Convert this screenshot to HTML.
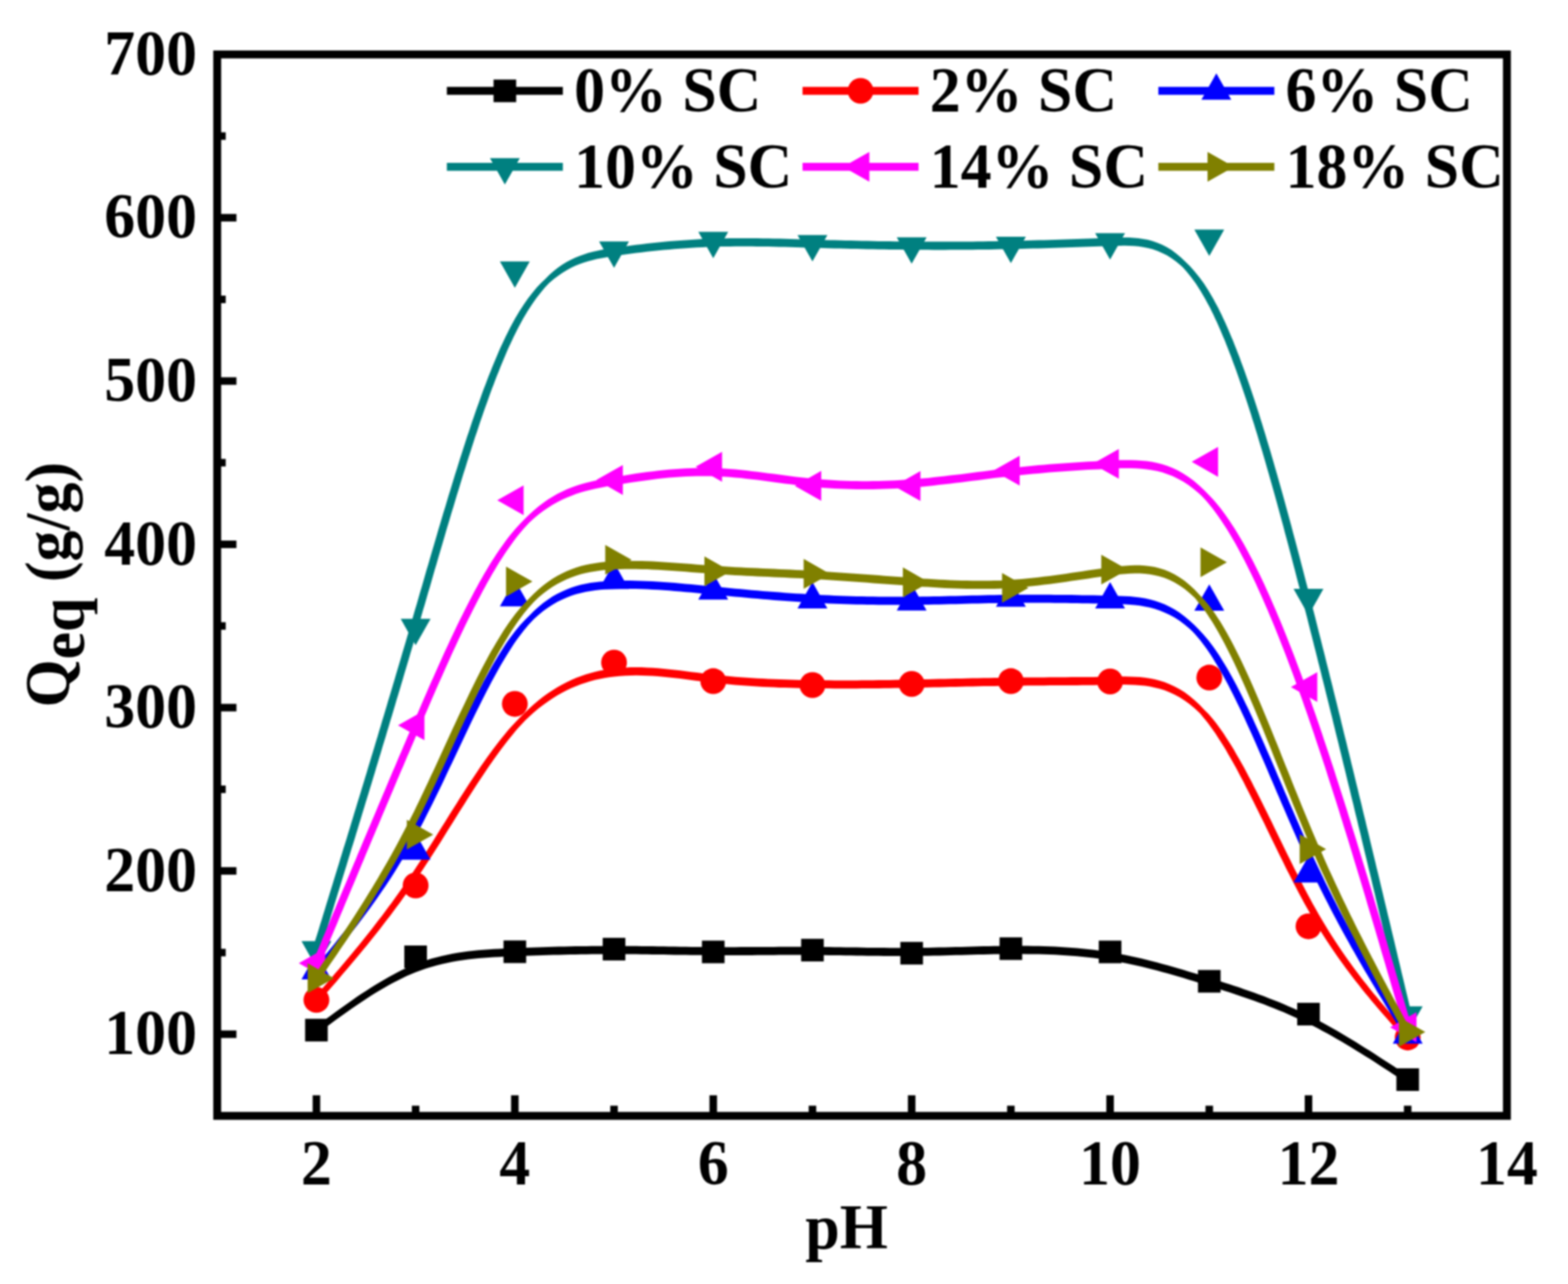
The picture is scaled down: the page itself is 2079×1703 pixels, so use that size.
<!DOCTYPE html>
<html lang="en"><head><meta charset="utf-8">
<title>Qeq versus pH</title>
<style>
html,body{margin:0;padding:0;background:#fff;}
body{width:2079px;height:1703px;overflow:hidden;}
svg{display:block;filter:blur(0.8px);}
text{font-family:"Liberation Serif",serif;font-weight:bold;fill:#000;}
.tk{font-size:82px;}
.lg{font-size:82px;}
.ti{font-size:82px;}
</style></head><body>
<svg width="2079" height="1703" viewBox="0 0 2079 1703" role="img" aria-label="Qeq (g/g) versus pH for 0% to 18% SC">
<rect x="0" y="0" width="2079" height="1703" fill="#ffffff"/>
<g stroke="#000" stroke-width="10" stroke-linecap="butt" fill="none">
<line x1="288" y1="1371.71" x2="313.5" y2="1371.71"/>
<line x1="288" y1="1155.12" x2="313.5" y2="1155.12"/>
<line x1="288" y1="938.54" x2="313.5" y2="938.54"/>
<line x1="288" y1="721.95" x2="313.5" y2="721.95"/>
<line x1="288" y1="505.37" x2="313.5" y2="505.37"/>
<line x1="288" y1="288.78" x2="313.5" y2="288.78"/>
<line x1="288" y1="1263.42" x2="299.3" y2="1263.42"/>
<line x1="288" y1="1046.83" x2="299.3" y2="1046.83"/>
<line x1="288" y1="830.25" x2="299.3" y2="830.25"/>
<line x1="288" y1="613.66" x2="299.3" y2="613.66"/>
<line x1="288" y1="397.08" x2="299.3" y2="397.08"/>
<line x1="288" y1="180.49" x2="299.3" y2="180.49"/>
<line x1="419.54" y1="1480" x2="419.54" y2="1452.7"/>
<line x1="682.62" y1="1480" x2="682.62" y2="1452.7"/>
<line x1="945.69" y1="1480" x2="945.69" y2="1452.7"/>
<line x1="1208.77" y1="1480" x2="1208.77" y2="1452.7"/>
<line x1="1471.85" y1="1480" x2="1471.85" y2="1452.7"/>
<line x1="1734.92" y1="1480" x2="1734.92" y2="1452.7"/>
<line x1="551.08" y1="1480" x2="551.08" y2="1466.5"/>
<line x1="814.15" y1="1480" x2="814.15" y2="1466.5"/>
<line x1="1077.23" y1="1480" x2="1077.23" y2="1466.5"/>
<line x1="1340.31" y1="1480" x2="1340.31" y2="1466.5"/>
<line x1="1603.38" y1="1480" x2="1603.38" y2="1466.5"/>
<line x1="1866.46" y1="1480" x2="1866.46" y2="1466.5"/>
</g>
<g>
<path d="M419.5 1371.7L425.5 1367.3L431.5 1362.9L437.5 1358.5L443.5 1354.1L449.4 1349.8L455.4 1345.5L461.4 1341.2L467.4 1337.1L473.3 1332.9L479.3 1328.9L485.3 1325L491.3 1321.1L497.3 1317.3L503.2 1313.7L509.2 1310.2L515.2 1306.8L521.2 1303.5L527.2 1300.4L533.1 1297.4L539.1 1294.6L545.1 1292L551.1 1289.5L558 1286.9L564.9 1284.5L571.8 1282.4L578.8 1280.5L585.7 1278.7L592.6 1277.2L599.5 1275.8L606.5 1274.6L613.4 1273.5L620.3 1272.6L627.2 1271.8L634.2 1271.1L641.1 1270.5L648 1270L654.9 1269.6L661.8 1269.2L668.8 1268.8L675.7 1268.5L682.6 1268.3L689.9 1268L697.2 1267.7L704.5 1267.5L711.8 1267.2L719.2 1267L726.5 1266.8L733.8 1266.6L741.1 1266.4L748.4 1266.2L755.7 1266.1L763 1265.9L770.3 1265.8L777.6 1265.7L784.9 1265.6L792.2 1265.5L799.5 1265.5L806.8 1265.5L814.2 1265.5L821.5 1265.5L828.8 1265.5L836.1 1265.6L843.4 1265.6L850.7 1265.7L858 1265.8L865.3 1265.9L872.6 1266L879.9 1266.1L887.2 1266.2L894.5 1266.4L901.8 1266.5L909.2 1266.6L916.5 1266.7L923.8 1266.8L931.1 1266.8L938.4 1266.9L945.7 1266.9L953 1267L960.3 1267L967.6 1267L974.9 1267L982.2 1266.9L989.5 1266.9L996.8 1266.9L1004.2 1266.8L1011.5 1266.8L1018.8 1266.7L1026.1 1266.7L1033.4 1266.6L1040.7 1266.6L1048 1266.6L1055.3 1266.6L1062.6 1266.6L1069.9 1266.6L1077.2 1266.6L1084.5 1266.7L1091.8 1266.8L1099.2 1266.9L1106.5 1267L1113.8 1267.1L1121.1 1267.2L1128.4 1267.3L1135.7 1267.4L1143 1267.5L1150.3 1267.7L1157.6 1267.8L1164.9 1267.8L1172.2 1267.9L1179.5 1268L1186.8 1268L1194.2 1268L1201.5 1268L1208.8 1268L1216.1 1267.9L1223.4 1267.8L1230.7 1267.7L1238 1267.6L1245.3 1267.4L1252.6 1267.2L1259.9 1267L1267.2 1266.8L1274.5 1266.7L1281.8 1266.5L1289.2 1266.3L1296.5 1266.1L1303.8 1265.9L1311.1 1265.8L1318.4 1265.6L1325.7 1265.5L1333 1265.4L1340.3 1265.4L1347.6 1265.3L1354.9 1265.3L1362.2 1265.4L1369.5 1265.5L1376.8 1265.6L1384.2 1265.8L1391.5 1266L1398.8 1266.3L1406.1 1266.7L1413.4 1267.2L1420.7 1267.7L1428 1268.3L1435.3 1269L1442.6 1269.7L1449.9 1270.6L1457.2 1271.5L1464.5 1272.6L1471.8 1273.7L1478.8 1274.9L1485.7 1276.2L1492.6 1277.6L1499.5 1279L1506.5 1280.5L1513.4 1282.1L1520.3 1283.8L1527.2 1285.5L1534.2 1287.3L1541.1 1289.2L1548 1291.1L1554.9 1293.1L1561.8 1295L1568.8 1297.1L1575.7 1299.2L1582.6 1301.3L1589.5 1303.4L1596.5 1305.5L1603.4 1307.7L1610 1309.8L1616.5 1311.8L1623.1 1314L1629.7 1316.1L1636.3 1318.3L1642.8 1320.4L1649.4 1322.7L1656 1325L1662.6 1327.3L1669.2 1329.7L1675.7 1332.1L1682.3 1334.7L1688.9 1337.2L1695.5 1339.9L1702 1342.6L1708.6 1345.5L1715.2 1348.4L1721.8 1351.4L1728.3 1354.5L1734.9 1357.7L1741.2 1360.8L1747.5 1364.1L1753.7 1367.4L1760 1370.8L1766.2 1374.3L1772.5 1377.9L1778.8 1381.6L1785 1385.3L1791.3 1389L1797.6 1392.9L1803.8 1396.7L1810.1 1400.7L1816.4 1404.6L1822.6 1408.6L1828.9 1412.7L1835.1 1416.7L1841.4 1420.8L1847.7 1424.9L1853.9 1429.1L1860.2 1433.2L1866.5 1437.3L1866.5 1426.5L1860.2 1422.4L1853.9 1418.3L1847.7 1414.1L1841.4 1410L1835.1 1405.9L1828.9 1401.9L1822.6 1397.8L1816.4 1393.8L1810.1 1389.9L1803.8 1385.9L1797.6 1382.1L1791.3 1378.2L1785 1374.5L1778.8 1370.8L1772.5 1367.1L1766.2 1363.5L1760 1360L1753.7 1356.6L1747.5 1353.3L1741.2 1350L1734.9 1346.9L1728.3 1343.7L1721.8 1340.6L1715.2 1337.6L1708.6 1334.7L1702 1331.8L1695.5 1329.1L1688.9 1326.4L1682.3 1323.9L1675.7 1321.3L1669.2 1318.9L1662.6 1316.5L1656 1314.2L1649.4 1311.9L1642.8 1309.6L1636.3 1307.5L1629.7 1305.3L1623.1 1303.2L1616.5 1301L1610 1299L1603.4 1296.9L1596.5 1294.7L1589.5 1292.6L1582.6 1290.5L1575.7 1288.4L1568.8 1286.3L1561.8 1284.2L1554.9 1282.3L1548 1280.3L1541.1 1278.4L1534.2 1276.5L1527.2 1274.7L1520.3 1273L1513.4 1271.3L1506.5 1269.7L1499.5 1268.2L1492.6 1266.8L1485.7 1265.4L1478.8 1264.1L1471.8 1262.9L1464.5 1261.8L1457.2 1260.7L1449.9 1259.8L1442.6 1258.9L1435.3 1258.2L1428 1257.5L1420.7 1256.9L1413.4 1256.4L1406.1 1255.9L1398.8 1255.5L1391.5 1255.2L1384.2 1255L1376.8 1254.8L1369.5 1254.7L1362.2 1254.6L1354.9 1254.5L1347.6 1254.5L1340.3 1254.6L1333 1254.6L1325.7 1254.7L1318.4 1254.8L1311.1 1255L1303.8 1255.1L1296.5 1255.3L1289.2 1255.5L1281.8 1255.7L1274.5 1255.9L1267.2 1256L1259.9 1256.2L1252.6 1256.4L1245.3 1256.6L1238 1256.8L1230.7 1256.9L1223.4 1257L1216.1 1257.1L1208.8 1257.2L1201.5 1257.2L1194.2 1257.2L1186.8 1257.2L1179.5 1257.2L1172.2 1257.1L1164.9 1257L1157.6 1257L1150.3 1256.9L1143 1256.7L1135.7 1256.6L1128.4 1256.5L1121.1 1256.4L1113.8 1256.3L1106.5 1256.2L1099.2 1256.1L1091.8 1256L1084.5 1255.9L1077.2 1255.8L1069.9 1255.8L1062.6 1255.8L1055.3 1255.8L1048 1255.8L1040.7 1255.8L1033.4 1255.8L1026.1 1255.9L1018.8 1255.9L1011.5 1256L1004.2 1256L996.8 1256.1L989.5 1256.1L982.2 1256.1L974.9 1256.2L967.6 1256.2L960.3 1256.2L953 1256.2L945.7 1256.1L938.4 1256.1L931.1 1256L923.8 1256L916.5 1255.9L909.2 1255.8L901.8 1255.7L894.5 1255.6L887.2 1255.4L879.9 1255.3L872.6 1255.2L865.3 1255.1L858 1255L850.7 1254.9L843.4 1254.8L836.1 1254.8L828.8 1254.7L821.5 1254.7L814.2 1254.7L806.8 1254.7L799.5 1254.7L792.2 1254.7L784.9 1254.8L777.6 1254.9L770.3 1255L763 1255.1L755.7 1255.3L748.4 1255.4L741.1 1255.6L733.8 1255.8L726.5 1256L719.2 1256.2L711.8 1256.4L704.5 1256.7L697.2 1256.9L689.9 1257.2L682.6 1257.5L675.7 1257.7L668.8 1258L661.8 1258.4L654.9 1258.8L648 1259.2L641.1 1259.7L634.2 1260.3L627.2 1261L620.3 1261.8L613.4 1262.7L606.5 1263.8L599.5 1265L592.6 1266.4L585.7 1267.9L578.8 1269.7L571.8 1271.6L564.9 1273.7L558 1276.1L551.1 1278.7L545.1 1281.2L539.1 1283.8L533.1 1286.6L527.2 1289.6L521.2 1292.7L515.2 1296L509.2 1299.4L503.2 1302.9L497.3 1306.5L491.3 1310.3L485.3 1314.2L479.3 1318.1L473.3 1322.1L467.4 1326.3L461.4 1330.4L455.4 1334.7L449.4 1339L443.5 1343.3L437.5 1347.7L431.5 1352.1L425.5 1356.5L419.5 1360.9Z" fill="#000000"/>
<rect x="404.54" y="1351.29" width="30" height="30" fill="#000000"/>
<rect x="536.08" y="1254.05" width="30" height="30" fill="#000000"/>
<rect x="667.62" y="1247.33" width="30" height="30" fill="#000000"/>
<rect x="799.15" y="1243.87" width="30" height="30" fill="#000000"/>
<rect x="930.69" y="1247.55" width="30" height="30" fill="#000000"/>
<rect x="1062.23" y="1245.17" width="30" height="30" fill="#000000"/>
<rect x="1193.77" y="1249.28" width="30" height="30" fill="#000000"/>
<rect x="1325.31" y="1243.22" width="30" height="30" fill="#000000"/>
<rect x="1456.85" y="1247.55" width="30" height="30" fill="#000000"/>
<rect x="1588.38" y="1286.53" width="30" height="30" fill="#000000"/>
<rect x="1719.92" y="1330.07" width="30" height="30" fill="#000000"/>
<rect x="1851.46" y="1416.92" width="30" height="30" fill="#000000"/>
</g>
<g>
<path d="M424.9 1326.2L429.3 1321.2L433.7 1316.1L438.1 1311L442.5 1305.9L446.9 1300.9L451.2 1295.7L455.6 1290.6L460 1285.5L464.4 1280.3L468.8 1275.1L473.2 1269.8L477.6 1264.5L481.9 1259.2L486.3 1253.9L490.7 1248.5L495.1 1243L499.5 1237.5L503.9 1231.9L508.2 1226.3L512.6 1220.6L517 1214.9L521.4 1209L525.8 1203.1L530.2 1197.2L534.6 1191.1L538.9 1185L543.3 1178.8L547.7 1172.5L552.1 1166.1L556.5 1159.6L560.5 1153.6L564.4 1147.5L568.4 1141.4L572.4 1135.2L576.4 1129L580.4 1122.7L584.4 1116.4L588.4 1110L592.4 1103.6L596.3 1097.3L600.3 1090.9L604.3 1084.5L608.3 1078.1L612.3 1071.8L616.3 1065.4L620.3 1059.1L624.2 1052.9L628.2 1046.7L632.2 1040.5L636.2 1034.4L640.2 1028.4L644.2 1022.5L648.2 1016.6L652.1 1010.9L656.1 1005.2L660.1 999.7L664.1 994.2L668.1 988.9L672.1 983.8L676.1 978.7L680 973.9L684 969.1L688 964.6L694.3 957.7L700.5 951.3L695.1 956.7L701.4 950.7L707.7 945.1L713.9 939.8L720.2 934.9L726.5 930.4L732.7 926.2L739 922.3L745.3 918.8L751.5 915.5L757.8 912.6L764 909.9L770.3 907.5L776.6 905.4L782.8 903.5L789.1 901.8L795.4 900.4L801.6 899.2L807.9 898.2L814.2 897.4L821.5 896.7L828.8 896.2L836.1 895.9L843.4 895.8L850.7 895.9L858 896.2L865.3 896.6L872.6 897.1L879.9 897.8L887.2 898.5L894.5 899.3L901.8 900.1L909.2 901.1L916.5 902L923.8 902.9L931.1 903.8L938.4 904.7L945.7 905.6L953 906.4L960.3 907.1L967.6 907.8L974.9 908.5L982.2 909L989.5 909.6L996.8 910.1L1004.2 910.5L1011.5 910.9L1018.8 911.3L1026.1 911.6L1033.4 911.9L1040.7 912.1L1048 912.3L1055.3 912.5L1062.6 912.7L1069.9 912.8L1077.2 912.9L1084.5 913L1091.8 913.1L1099.2 913.1L1106.5 913.2L1113.8 913.2L1121.1 913.2L1128.4 913.2L1135.7 913.2L1143 913.1L1150.3 913L1157.6 913L1164.9 912.9L1172.2 912.8L1179.5 912.7L1186.8 912.6L1194.2 912.4L1201.5 912.3L1208.8 912.2L1216.1 912L1223.4 911.9L1230.7 911.7L1238 911.6L1245.3 911.4L1252.6 911.2L1259.9 911.1L1267.2 910.9L1274.5 910.7L1281.8 910.6L1289.2 910.4L1296.5 910.3L1303.8 910.1L1311.1 910L1318.4 909.9L1325.7 909.7L1333 909.6L1340.3 909.5L1347.6 909.5L1354.9 909.4L1362.2 909.3L1369.5 909.3L1376.8 909.2L1384.2 909.2L1391.5 909.1L1398.8 909.1L1406.1 909L1413.4 909L1420.7 908.9L1428 908.9L1435.3 908.8L1442.6 908.8L1449.9 908.7L1457.2 908.6L1464.5 908.5L1471.8 908.3L1478.4 908.2L1485 908.1L1491.6 908.1L1498.2 908.2L1504.7 908.5L1511.3 908.9L1517.9 909.6L1524.5 910.6L1531 911.9L1537.6 913.5L1544.2 915.6L1550.8 918.2L1557.3 921.2L1563.9 924.8L1570.5 928.9L1577.1 933.7L1583.7 939.2L1590.2 945.3L1596.8 952.2L1591.4 946.8L1598 954.5L1601.4 958.8L1604.7 963.3L1608.1 968L1611.5 972.8L1614.8 977.9L1618.2 983.2L1621.6 988.6L1625 994.1L1628.3 999.9L1631.7 1005.7L1635.1 1011.7L1638.5 1017.8L1641.8 1024.1L1645.2 1030.4L1648.6 1036.8L1651.9 1043.4L1655.3 1050L1658.7 1056.7L1662.1 1063.4L1665.4 1070.2L1668.8 1077L1672.2 1083.9L1675.6 1090.8L1678.9 1097.8L1682.3 1104.7L1685.7 1111.7L1689 1118.6L1692.4 1125.5L1695.8 1132.4L1699.2 1139.3L1702.5 1146.1L1705.9 1152.9L1709.3 1159.6L1712.7 1166.2L1716 1172.8L1719.4 1179.3L1722.8 1185.7L1726.2 1192L1729.5 1198.2L1733.8 1205.8L1738 1213.2L1742.3 1220.4L1746.5 1227.5L1750.7 1234.4L1755 1241.2L1759.2 1247.7L1763.5 1254.2L1767.7 1260.5L1772 1266.7L1776.2 1272.7L1780.4 1278.6L1784.7 1284.4L1788.9 1290.1L1793.2 1295.7L1797.4 1301.2L1801.7 1306.6L1805.9 1311.9L1810.1 1317.2L1814.4 1322.3L1818.6 1327.4L1822.9 1332.5L1827.1 1337.5L1831.4 1342.4L1835.6 1347.3L1839.8 1352.1L1844.1 1356.9L1848.3 1361.7L1852.6 1366.5L1856.8 1371.3L1861.1 1376L1871.9 1376L1867.6 1371.3L1863.4 1366.5L1859.1 1361.7L1854.9 1356.9L1850.6 1352.1L1846.4 1347.3L1842.2 1342.4L1837.9 1337.5L1833.7 1332.5L1829.4 1327.4L1825.2 1322.3L1820.9 1317.2L1816.7 1311.9L1812.5 1306.6L1808.2 1301.2L1804 1295.7L1799.7 1290.1L1795.5 1284.4L1791.2 1278.6L1787 1272.7L1782.8 1266.7L1778.5 1260.5L1774.3 1254.2L1770 1247.7L1765.8 1241.2L1761.5 1234.4L1757.3 1227.5L1753.1 1220.4L1748.8 1213.2L1744.6 1205.8L1740.3 1198.2L1737 1192L1733.6 1185.7L1730.2 1179.3L1726.8 1172.8L1723.5 1166.2L1720.1 1159.6L1716.7 1152.9L1713.3 1146.1L1710 1139.3L1706.6 1132.4L1703.2 1125.5L1699.8 1118.6L1696.5 1111.7L1693.1 1104.7L1689.7 1097.8L1686.4 1090.8L1683 1083.9L1679.6 1077L1676.2 1070.2L1672.9 1063.4L1669.5 1056.7L1666.1 1050L1662.7 1043.4L1659.4 1036.8L1656 1030.4L1652.6 1024.1L1649.3 1017.8L1645.9 1011.7L1642.5 1005.7L1639.1 999.9L1635.8 994.1L1632.4 988.6L1629 983.2L1625.6 977.9L1622.3 972.8L1618.9 968L1615.5 963.3L1612.2 958.8L1608.8 954.5L1602.2 946.8L1596.8 941.4L1590.2 934.5L1583.7 928.4L1577.1 922.9L1570.5 918.1L1563.9 914L1557.3 910.4L1550.8 907.4L1544.2 904.8L1537.6 902.7L1531 901.1L1524.5 899.8L1517.9 898.8L1511.3 898.1L1504.7 897.7L1498.2 897.4L1491.6 897.3L1485 897.3L1478.4 897.4L1471.8 897.5L1464.5 897.7L1457.2 897.8L1449.9 897.9L1442.6 898L1435.3 898L1428 898.1L1420.7 898.1L1413.4 898.2L1406.1 898.2L1398.8 898.3L1391.5 898.3L1384.2 898.4L1376.8 898.4L1369.5 898.5L1362.2 898.5L1354.9 898.6L1347.6 898.7L1340.3 898.7L1333 898.8L1325.7 898.9L1318.4 899.1L1311.1 899.2L1303.8 899.3L1296.5 899.5L1289.2 899.6L1281.8 899.8L1274.5 899.9L1267.2 900.1L1259.9 900.3L1252.6 900.4L1245.3 900.6L1238 900.8L1230.7 900.9L1223.4 901.1L1216.1 901.2L1208.8 901.4L1201.5 901.5L1194.2 901.6L1186.8 901.8L1179.5 901.9L1172.2 902L1164.9 902.1L1157.6 902.2L1150.3 902.2L1143 902.3L1135.7 902.4L1128.4 902.4L1121.1 902.4L1113.8 902.4L1106.5 902.4L1099.2 902.3L1091.8 902.3L1084.5 902.2L1077.2 902.1L1069.9 902L1062.6 901.9L1055.3 901.7L1048 901.5L1040.7 901.3L1033.4 901.1L1026.1 900.8L1018.8 900.5L1011.5 900.1L1004.2 899.7L996.8 899.3L989.5 898.8L982.2 898.2L974.9 897.7L967.6 897L960.3 896.3L953 895.6L945.7 894.8L938.4 893.9L931.1 893L923.8 892.1L916.5 891.2L909.2 890.3L901.8 889.3L894.5 888.5L887.2 887.7L879.9 887L872.6 886.3L865.3 885.8L858 885.4L850.7 885.1L843.4 885L836.1 885.1L828.8 885.4L821.5 885.9L814.2 886.6L807.9 887.4L801.6 888.4L795.4 889.6L789.1 891L782.8 892.7L776.6 894.6L770.3 896.7L764 899.1L757.8 901.8L751.5 904.7L745.3 908L739 911.5L732.7 915.4L726.5 919.6L720.2 924.1L713.9 929L707.7 934.3L701.4 939.9L695.1 945.9L689.7 951.3L683.5 957.7L677.2 964.6L673.2 969.1L669.2 973.9L665.3 978.7L661.3 983.8L657.3 988.9L653.3 994.2L649.3 999.7L645.3 1005.2L641.3 1010.9L637.4 1016.6L633.4 1022.5L629.4 1028.4L625.4 1034.4L621.4 1040.5L617.4 1046.7L613.4 1052.9L609.5 1059.1L605.5 1065.4L601.5 1071.8L597.5 1078.1L593.5 1084.5L589.5 1090.9L585.5 1097.3L581.6 1103.6L577.6 1110L573.6 1116.4L569.6 1122.7L565.6 1129L561.6 1135.2L557.6 1141.4L553.6 1147.5L549.7 1153.6L545.7 1159.6L541.3 1166.1L536.9 1172.5L532.5 1178.8L528.1 1185L523.8 1191.1L519.4 1197.2L515 1203.1L510.6 1209L506.2 1214.9L501.8 1220.6L497.4 1226.3L493.1 1231.9L488.7 1237.5L484.3 1243L479.9 1248.5L475.5 1253.9L471.1 1259.2L466.8 1264.5L462.4 1269.8L458 1275.1L453.6 1280.3L449.2 1285.5L444.8 1290.6L440.4 1295.7L436.1 1300.9L431.7 1305.9L427.3 1311L422.9 1316.1L418.5 1321.2L414.1 1326.2Z" fill="#ff0000"/>
<circle cx="419.54" cy="1326.22" r="17.1" fill="#ff0000"/>
<circle cx="551.08" cy="1174.4" r="17.1" fill="#ff0000"/>
<circle cx="682.62" cy="933.56" r="17.1" fill="#ff0000"/>
<circle cx="814.15" cy="878.76" r="17.1" fill="#ff0000"/>
<circle cx="945.69" cy="903.45" r="17.1" fill="#ff0000"/>
<circle cx="1077.23" cy="908.65" r="17.1" fill="#ff0000"/>
<circle cx="1208.77" cy="907.13" r="17.1" fill="#ff0000"/>
<circle cx="1340.31" cy="903.45" r="17.1" fill="#ff0000"/>
<circle cx="1471.85" cy="903.88" r="17.1" fill="#ff0000"/>
<circle cx="1603.38" cy="898.69" r="17.1" fill="#ff0000"/>
<circle cx="1734.92" cy="1228.55" r="17.1" fill="#ff0000"/>
<circle cx="1866.46" cy="1376.04" r="17.1" fill="#ff0000"/>
</g>
<g>
<path d="M424.9 1287.5L429 1282.5L433.2 1277.5L437.3 1272.5L441.4 1267.6L445.5 1262.5L449.6 1257.5L453.7 1252.4L457.8 1247.3L461.9 1242.1L466 1236.9L470.2 1231.7L474.3 1226.4L478.4 1221L482.5 1215.5L486.6 1210L490.7 1204.4L494.8 1198.7L498.9 1192.9L503 1187L507.1 1181L511.3 1174.9L515.4 1168.7L519.5 1162.4L523.6 1155.9L527.7 1149.3L531.8 1142.6L535.9 1135.7L540 1128.7L544.1 1121.6L548.3 1114.3L552.4 1106.8L556.5 1099.1L559.8 1092.9L563.1 1086.6L566.3 1080.1L569.6 1073.6L572.9 1067L576.2 1060.3L579.5 1053.6L582.8 1046.8L586.1 1039.9L589.4 1033L592.6 1026.1L595.9 1019.1L599.2 1012.2L602.5 1005.2L605.8 998.2L609.1 991.2L612.4 984.2L615.7 977.3L619 970.3L622.2 963.5L625.5 956.6L628.8 949.8L632.1 943.1L635.4 936.4L638.7 929.8L642 923.3L645.3 916.8L648.6 910.5L651.8 904.3L655.1 898.2L658.4 892.2L661.7 886.3L665 880.5L668.3 874.9L671.6 869.5L674.9 864.2L678.2 859.1L681.4 854.1L684.7 849.3L688 844.8L694.3 836.6L700.5 829L706.8 822.2L713.1 815.9L707.7 821.3L713.9 815.7L720.2 810.6L726.5 806L732.7 801.9L739 798.3L745.3 795.2L751.5 792.5L757.8 790.1L764 788.1L770.3 786.4L776.6 785L782.8 783.9L789.1 783L795.4 782.3L801.6 781.8L807.9 781.4L814.2 781.2L821.5 781L828.8 780.9L836.1 780.9L843.4 781L850.7 781.2L858 781.5L865.3 781.9L872.6 782.3L879.9 782.8L887.2 783.3L894.5 783.9L901.8 784.5L909.2 785.2L916.5 785.8L923.8 786.5L931.1 787.2L938.4 788L945.7 788.7L953 789.4L960.3 790.1L967.6 790.8L974.9 791.5L982.2 792.1L989.5 792.8L996.8 793.5L1004.2 794.1L1011.5 794.7L1018.8 795.3L1026.1 795.9L1033.4 796.4L1040.7 797L1048 797.5L1055.3 798L1062.6 798.4L1069.9 798.9L1077.2 799.3L1084.5 799.7L1091.8 800L1099.2 800.4L1106.5 800.7L1113.8 801L1121.1 801.2L1128.4 801.5L1135.7 801.7L1143 801.8L1150.3 802L1157.6 802.1L1164.9 802.2L1172.2 802.3L1179.5 802.3L1186.8 802.3L1194.2 802.3L1201.5 802.3L1208.8 802.3L1216.1 802.2L1223.4 802.1L1230.7 802L1238 801.8L1245.3 801.7L1252.6 801.5L1259.9 801.3L1267.2 801.2L1274.5 801L1281.8 800.8L1289.2 800.6L1296.5 800.5L1303.8 800.3L1311.1 800.1L1318.4 800L1325.7 799.9L1333 799.7L1340.3 799.7L1347.6 799.6L1354.9 799.5L1362.2 799.5L1369.5 799.5L1376.8 799.5L1384.2 799.6L1391.5 799.6L1398.8 799.7L1406.1 799.8L1413.4 799.8L1420.7 799.9L1428 800.1L1435.3 800.2L1442.6 800.3L1449.9 800.4L1457.2 800.6L1464.5 800.7L1471.8 800.9L1478.4 801L1485 801.2L1491.6 801.5L1498.2 801.9L1504.7 802.5L1511.3 803.3L1517.9 804.4L1524.5 805.8L1531 807.6L1537.6 809.8L1544.2 812.4L1550.8 815.5L1557.3 819.1L1563.9 823.3L1570.5 828.2L1577.1 833.7L1583.7 839.9L1578.3 834.5L1584.8 841.5L1591.4 849.3L1598 858L1601 862.3L1604.1 866.8L1607.2 871.5L1610.2 876.4L1613.3 881.4L1616.3 886.6L1619.4 891.9L1622.5 897.4L1625.5 903.1L1628.6 908.8L1631.6 914.7L1634.7 920.8L1637.8 926.9L1640.8 933.2L1643.9 939.5L1646.9 946L1650 952.5L1653 959.2L1656.1 965.9L1659.2 972.7L1662.2 979.5L1665.3 986.5L1668.3 993.4L1671.4 1000.4L1674.5 1007.5L1677.5 1014.6L1680.6 1021.7L1683.6 1028.9L1686.7 1036L1689.8 1043.2L1692.8 1050.4L1695.9 1057.5L1698.9 1064.7L1702 1071.8L1705.1 1079L1708.1 1086.1L1711.2 1093.1L1714.2 1100.1L1717.3 1107.1L1720.3 1114L1723.4 1120.9L1726.5 1127.7L1729.5 1134.4L1733 1141.9L1736.4 1149.3L1739.9 1156.6L1743.4 1163.8L1746.8 1170.9L1750.3 1178L1753.8 1184.9L1757.2 1191.8L1760.7 1198.6L1764.1 1205.3L1767.6 1211.9L1771.1 1218.5L1774.5 1225L1778 1231.4L1781.4 1237.8L1784.9 1244.1L1788.4 1250.3L1791.8 1256.5L1795.3 1262.6L1798.8 1268.7L1802.2 1274.8L1805.7 1280.7L1809.1 1286.7L1812.6 1292.6L1816.1 1298.5L1819.5 1304.3L1823 1310.1L1826.4 1315.9L1829.9 1321.6L1833.4 1327.3L1836.8 1333L1840.3 1338.7L1843.8 1344.4L1847.2 1350L1850.7 1355.7L1854.1 1361.3L1857.6 1366.9L1861.1 1372.6L1871.9 1372.6L1868.4 1366.9L1864.9 1361.3L1861.5 1355.7L1858 1350L1854.6 1344.4L1851.1 1338.7L1847.6 1333L1844.2 1327.3L1840.7 1321.6L1837.2 1315.9L1833.8 1310.1L1830.3 1304.3L1826.9 1298.5L1823.4 1292.6L1819.9 1286.7L1816.5 1280.7L1813 1274.8L1809.6 1268.7L1806.1 1262.6L1802.6 1256.5L1799.2 1250.3L1795.7 1244.1L1792.2 1237.8L1788.8 1231.4L1785.3 1225L1781.9 1218.5L1778.4 1211.9L1774.9 1205.3L1771.5 1198.6L1768 1191.8L1764.6 1184.9L1761.1 1178L1757.6 1170.9L1754.2 1163.8L1750.7 1156.6L1747.2 1149.3L1743.8 1141.9L1740.3 1134.4L1737.3 1127.7L1734.2 1120.9L1731.1 1114L1728.1 1107.1L1725 1100.1L1722 1093.1L1718.9 1086.1L1715.9 1079L1712.8 1071.8L1709.7 1064.7L1706.7 1057.5L1703.6 1050.4L1700.6 1043.2L1697.5 1036L1694.4 1028.9L1691.4 1021.7L1688.3 1014.6L1685.3 1007.5L1682.2 1000.4L1679.1 993.4L1676.1 986.5L1673 979.5L1670 972.7L1666.9 965.9L1663.8 959.2L1660.8 952.5L1657.7 946L1654.7 939.5L1651.6 933.2L1648.6 926.9L1645.5 920.8L1642.4 914.7L1639.4 908.8L1636.3 903.1L1633.3 897.4L1630.2 891.9L1627.1 886.6L1624.1 881.4L1621 876.4L1618 871.5L1614.9 866.8L1611.8 862.3L1608.8 858L1602.2 849.3L1595.6 841.5L1589.1 834.5L1583.7 829.1L1577.1 822.9L1570.5 817.4L1563.9 812.5L1557.3 808.3L1550.8 804.7L1544.2 801.6L1537.6 799L1531 796.8L1524.5 795L1517.9 793.6L1511.3 792.5L1504.7 791.7L1498.2 791.1L1491.6 790.7L1485 790.4L1478.4 790.2L1471.8 790.1L1464.5 789.9L1457.2 789.8L1449.9 789.6L1442.6 789.5L1435.3 789.4L1428 789.3L1420.7 789.1L1413.4 789L1406.1 789L1398.8 788.9L1391.5 788.8L1384.2 788.8L1376.8 788.7L1369.5 788.7L1362.2 788.7L1354.9 788.7L1347.6 788.8L1340.3 788.9L1333 788.9L1325.7 789.1L1318.4 789.2L1311.1 789.3L1303.8 789.5L1296.5 789.7L1289.2 789.8L1281.8 790L1274.5 790.2L1267.2 790.4L1259.9 790.5L1252.6 790.7L1245.3 790.9L1238 791L1230.7 791.2L1223.4 791.3L1216.1 791.4L1208.8 791.5L1201.5 791.5L1194.2 791.5L1186.8 791.5L1179.5 791.5L1172.2 791.5L1164.9 791.4L1157.6 791.3L1150.3 791.2L1143 791L1135.7 790.9L1128.4 790.7L1121.1 790.4L1113.8 790.2L1106.5 789.9L1099.2 789.6L1091.8 789.2L1084.5 788.9L1077.2 788.5L1069.9 788.1L1062.6 787.6L1055.3 787.2L1048 786.7L1040.7 786.2L1033.4 785.6L1026.1 785.1L1018.8 784.5L1011.5 783.9L1004.2 783.3L996.8 782.7L989.5 782L982.2 781.3L974.9 780.7L967.6 780L960.3 779.3L953 778.6L945.7 777.9L938.4 777.2L931.1 776.4L923.8 775.7L916.5 775L909.2 774.4L901.8 773.7L894.5 773.1L887.2 772.5L879.9 772L872.6 771.5L865.3 771.1L858 770.7L850.7 770.4L843.4 770.2L836.1 770.1L828.8 770.1L821.5 770.2L814.2 770.4L807.9 770.6L801.6 771L795.4 771.5L789.1 772.2L782.8 773.1L776.6 774.2L770.3 775.6L764 777.3L757.8 779.3L751.5 781.7L745.3 784.4L739 787.5L732.7 791.1L726.5 795.2L720.2 799.8L713.9 804.9L707.7 810.5L702.3 815.9L696 822.2L689.7 829L683.5 836.6L677.2 844.8L673.9 849.3L670.6 854.1L667.4 859.1L664.1 864.2L660.8 869.5L657.5 874.9L654.2 880.5L650.9 886.3L647.6 892.2L644.3 898.2L641 904.3L637.8 910.5L634.5 916.8L631.2 923.3L627.9 929.8L624.6 936.4L621.3 943.1L618 949.8L614.7 956.6L611.4 963.5L608.2 970.3L604.9 977.3L601.6 984.2L598.3 991.2L595 998.2L591.7 1005.2L588.4 1012.2L585.1 1019.1L581.9 1026.1L578.6 1033L575.3 1039.9L572 1046.8L568.7 1053.6L565.4 1060.3L562.1 1067L558.8 1073.6L555.5 1080.1L552.3 1086.6L549 1092.9L545.7 1099.1L541.6 1106.8L537.5 1114.3L533.3 1121.6L529.2 1128.7L525.1 1135.7L521 1142.6L516.9 1149.3L512.8 1155.9L508.7 1162.4L504.6 1168.7L500.5 1174.9L496.4 1181L492.2 1187L488.1 1192.9L484 1198.7L479.9 1204.4L475.8 1210L471.7 1215.5L467.6 1221L463.5 1226.4L459.4 1231.7L455.2 1236.9L451.1 1242.1L447 1247.3L442.9 1252.4L438.8 1257.5L434.7 1262.5L430.6 1267.6L426.5 1272.5L422.4 1277.5L418.2 1282.5L414.1 1287.5Z" fill="#0000ff"/>
<polygon points="419.54,1264.12 399.74,1299.12 439.34,1299.12" fill="#0000ff"/>
<polygon points="551.08,1105.37 531.28,1140.37 570.88,1140.37" fill="#0000ff"/>
<polygon points="682.62,769.23 662.82,804.23 702.42,804.23" fill="#0000ff"/>
<polygon points="814.15,746.27 794.35,781.27 833.95,781.27" fill="#0000ff"/>
<polygon points="945.69,760.35 925.89,795.35 965.49,795.35" fill="#0000ff"/>
<polygon points="1077.23,772.04 1057.43,807.04 1097.03,807.04" fill="#0000ff"/>
<polygon points="1208.77,774.86 1188.97,809.86 1228.57,809.86" fill="#0000ff"/>
<polygon points="1340.31,769.66 1320.51,804.66 1360.11,804.66" fill="#0000ff"/>
<polygon points="1471.85,772.04 1452.05,807.04 1491.65,807.04" fill="#0000ff"/>
<polygon points="1603.38,775.07 1583.58,810.07 1623.18,810.07" fill="#0000ff"/>
<polygon points="1734.92,1135.47 1715.12,1170.47 1754.72,1170.47" fill="#0000ff"/>
<polygon points="1866.46,1349.24 1846.66,1384.24 1886.26,1384.24" fill="#0000ff"/>
</g>
<g>
<path d="M424.9 1260L427 1253.3L429 1246.6L431.1 1239.9L433.2 1233.2L435.2 1226.5L437.3 1219.9L439.3 1213.2L441.4 1206.5L443.4 1199.8L445.5 1193.1L447.5 1186.4L449.6 1179.7L451.7 1173L453.7 1166.3L455.8 1159.6L457.8 1152.9L459.9 1146.2L461.9 1139.5L464 1132.8L466 1126.1L468.1 1119.4L470.2 1112.7L472.2 1105.9L474.3 1099.2L476.3 1092.5L478.4 1085.7L480.4 1079L482.5 1072.3L484.5 1065.5L486.6 1058.7L488.7 1052L490.7 1045.2L492.8 1038.4L494.8 1031.7L496.9 1024.9L498.9 1018.1L501 1011.3L503 1004.5L505.1 997.7L507.1 990.8L509.2 984L511.3 977.2L513.3 970.3L515.4 963.5L517.4 956.6L519.5 949.8L521.5 942.9L523.6 936L525.6 929.1L527.7 922.2L529.8 915.3L531.8 908.4L533.9 901.5L535.9 894.6L538 887.6L540 880.7L542.1 873.7L544.1 866.7L546.2 859.7L548.3 852.7L550.3 845.7L552.4 838.7L554.4 831.7L556.5 824.7L558.7 817L560.9 809.3L563.2 801.7L565.4 794L567.6 786.3L569.9 778.7L572.1 771L574.3 763.3L576.5 755.6L578.8 748L581 740.3L583.2 732.7L585.5 725.1L587.7 717.5L589.9 709.9L592.1 702.3L594.4 694.8L596.6 687.3L598.8 679.8L601.1 672.4L603.3 665L605.5 657.6L607.8 650.2L610 643L612.2 635.7L614.4 628.5L616.7 621.4L618.9 614.3L621.1 607.2L623.4 600.2L625.6 593.3L627.8 586.4L630 579.6L632.3 572.9L634.5 566.2L636.7 559.6L639 553.1L641.2 546.6L643.4 540.3L645.7 534L647.9 527.8L650.1 521.6L652.3 515.6L654.6 509.7L656.8 503.8L659 498.1L661.3 492.4L663.5 486.8L665.7 481.4L668 476L670.2 470.8L672.4 465.6L674.6 460.6L676.9 455.7L679.1 450.9L681.3 446.2L683.6 441.7L685.8 437.2L688 432.9L693.7 422.5L699.5 412.8L705.2 403.9L710.9 395.8L716.6 388.4L722.3 381.6L728 375.4L733.8 369.9L728.4 375.3L734.1 370.3L739.8 365.9L745.5 361.9L751.2 358.4L757 355.3L762.7 352.6L768.4 350.2L774.1 348.2L779.8 346.4L785.6 344.9L791.3 343.6L797 342.4L802.7 341.4L808.4 340.4L814.2 339.6L821.5 338.5L828.8 337.5L836.1 336.5L843.4 335.5L850.7 334.7L858 333.8L865.3 333L872.6 332.2L879.9 331.5L887.2 330.9L894.5 330.3L901.8 329.7L909.2 329.2L916.5 328.7L923.8 328.3L931.1 327.9L938.4 327.6L945.7 327.4L953 327.1L960.3 327L967.6 326.9L974.9 326.8L982.2 326.8L989.5 326.8L996.8 326.8L1004.2 326.9L1011.5 327L1018.8 327.1L1026.1 327.3L1033.4 327.4L1040.7 327.6L1048 327.8L1055.3 328L1062.6 328.2L1069.9 328.4L1077.2 328.6L1084.5 328.8L1091.8 329L1099.2 329.2L1106.5 329.4L1113.8 329.6L1121.1 329.8L1128.4 329.9L1135.7 330.1L1143 330.2L1150.3 330.4L1157.6 330.5L1164.9 330.7L1172.2 330.8L1179.5 330.9L1186.8 331L1194.2 331.1L1201.5 331.2L1208.8 331.2L1216.1 331.3L1223.4 331.3L1230.7 331.3L1238 331.4L1245.3 331.4L1252.6 331.4L1259.9 331.3L1267.2 331.3L1274.5 331.3L1281.8 331.2L1289.2 331.2L1296.5 331.1L1303.8 331L1311.1 330.9L1318.4 330.8L1325.7 330.6L1333 330.5L1340.3 330.4L1347.6 330.2L1354.9 330L1362.2 329.8L1369.5 329.6L1376.8 329.4L1384.2 329.2L1391.5 329L1398.8 328.8L1406.1 328.5L1413.4 328.3L1420.7 328.1L1428 327.8L1435.3 327.6L1442.6 327.3L1449.9 327.1L1457.2 326.8L1464.5 326.5L1471.8 326.3L1478.1 326.1L1484.4 325.9L1490.6 325.8L1496.9 325.9L1503.2 326.3L1509.4 326.8L1515.7 327.7L1522 328.9L1528.2 330.6L1534.5 332.7L1540.7 335.4L1547 338.6L1553.3 342.4L1559.5 347L1565.8 352.2L1572.1 358.2L1566.7 352.8L1572.9 359.7L1579.2 367.4L1585.5 376.1L1591.7 385.7L1598 396.4L1600.1 400.4L1602.3 404.4L1604.5 408.6L1606.6 412.9L1608.8 417.3L1610.9 421.9L1613.1 426.6L1615.2 431.3L1617.4 436.2L1619.5 441.3L1621.7 446.4L1623.9 451.6L1626 457L1628.2 462.4L1630.3 468L1632.5 473.6L1634.6 479.4L1636.8 485.2L1639 491.2L1641.1 497.2L1643.3 503.4L1645.4 509.6L1647.6 515.9L1649.7 522.3L1651.9 528.8L1654.1 535.4L1656.2 542.1L1658.4 548.8L1660.5 555.7L1662.7 562.6L1664.8 569.6L1667 576.6L1669.1 583.7L1671.3 590.9L1673.5 598.2L1675.6 605.5L1677.8 612.9L1679.9 620.4L1682.1 627.9L1684.2 635.5L1686.4 643.2L1688.6 650.9L1690.7 658.6L1692.9 666.4L1695 674.3L1697.2 682.2L1699.3 690.1L1701.5 698.1L1703.6 706.2L1705.8 714.3L1708 722.4L1710.1 730.6L1712.3 738.8L1714.4 747L1716.6 755.3L1718.7 763.6L1720.9 771.9L1723.1 780.3L1725.2 788.6L1727.4 797.1L1729.5 805.5L1731.2 812L1732.9 818.5L1734.5 825.1L1736.2 831.7L1737.8 838.2L1739.5 844.8L1741.2 851.4L1742.8 858L1744.5 864.6L1746.2 871.3L1747.8 877.9L1749.5 884.6L1751.2 891.2L1752.8 897.9L1754.5 904.6L1756.2 911.3L1757.8 918L1759.5 924.7L1761.2 931.4L1762.8 938.1L1764.5 944.9L1766.2 951.6L1767.8 958.4L1769.5 965.2L1771.1 971.9L1772.8 978.7L1774.5 985.5L1776.1 992.3L1777.8 999.1L1779.5 1006L1781.1 1012.8L1782.8 1019.6L1784.5 1026.4L1786.1 1033.3L1787.8 1040.2L1789.5 1047L1791.1 1053.9L1792.8 1060.8L1794.5 1067.6L1796.1 1074.5L1797.8 1081.4L1799.5 1088.3L1801.1 1095.2L1802.8 1102.1L1804.5 1109.1L1806.1 1116L1807.8 1122.9L1809.4 1129.8L1811.1 1136.8L1812.8 1143.7L1814.4 1150.7L1816.1 1157.6L1817.8 1164.6L1819.4 1171.5L1821.1 1178.5L1822.8 1185.5L1824.4 1192.4L1826.1 1199.4L1827.8 1206.4L1829.4 1213.4L1831.1 1220.3L1832.8 1227.3L1834.4 1234.3L1836.1 1241.3L1837.8 1248.3L1839.4 1255.3L1841.1 1262.3L1842.7 1269.3L1844.4 1276.3L1846.1 1283.3L1847.7 1290.3L1849.4 1297.3L1851.1 1304.3L1852.7 1311.3L1854.4 1318.3L1856.1 1325.3L1857.7 1332.3L1859.4 1339.4L1861.1 1346.4L1871.9 1346.4L1870.2 1339.4L1868.5 1332.3L1866.9 1325.3L1865.2 1318.3L1863.5 1311.3L1861.9 1304.3L1860.2 1297.3L1858.5 1290.3L1856.9 1283.3L1855.2 1276.3L1853.5 1269.3L1851.9 1262.3L1850.2 1255.3L1848.6 1248.3L1846.9 1241.3L1845.2 1234.3L1843.6 1227.3L1841.9 1220.3L1840.2 1213.4L1838.6 1206.4L1836.9 1199.4L1835.2 1192.4L1833.6 1185.5L1831.9 1178.5L1830.2 1171.5L1828.6 1164.6L1826.9 1157.6L1825.2 1150.7L1823.6 1143.7L1821.9 1136.8L1820.2 1129.8L1818.6 1122.9L1816.9 1116L1815.3 1109.1L1813.6 1102.1L1811.9 1095.2L1810.3 1088.3L1808.6 1081.4L1806.9 1074.5L1805.3 1067.6L1803.6 1060.8L1801.9 1053.9L1800.3 1047L1798.6 1040.2L1796.9 1033.3L1795.3 1026.4L1793.6 1019.6L1791.9 1012.8L1790.3 1006L1788.6 999.1L1786.9 992.3L1785.3 985.5L1783.6 978.7L1781.9 971.9L1780.3 965.2L1778.6 958.4L1777 951.6L1775.3 944.9L1773.6 938.1L1772 931.4L1770.3 924.7L1768.6 918L1767 911.3L1765.3 904.6L1763.6 897.9L1762 891.2L1760.3 884.6L1758.6 877.9L1757 871.3L1755.3 864.6L1753.6 858L1752 851.4L1750.3 844.8L1748.6 838.2L1747 831.7L1745.3 825.1L1743.7 818.5L1742 812L1740.3 805.5L1738.2 797.1L1736 788.6L1733.9 780.3L1731.7 771.9L1729.5 763.6L1727.4 755.3L1725.2 747L1723.1 738.8L1720.9 730.6L1718.8 722.4L1716.6 714.3L1714.4 706.2L1712.3 698.1L1710.1 690.1L1708 682.2L1705.8 674.3L1703.7 666.4L1701.5 658.6L1699.4 650.9L1697.2 643.2L1695 635.5L1692.9 627.9L1690.7 620.4L1688.6 612.9L1686.4 605.5L1684.3 598.2L1682.1 590.9L1679.9 583.7L1677.8 576.6L1675.6 569.6L1673.5 562.6L1671.3 555.7L1669.2 548.8L1667 542.1L1664.9 535.4L1662.7 528.8L1660.5 522.3L1658.4 515.9L1656.2 509.6L1654.1 503.4L1651.9 497.2L1649.8 491.2L1647.6 485.2L1645.4 479.4L1643.3 473.6L1641.1 468L1639 462.4L1636.8 457L1634.7 451.6L1632.5 446.4L1630.3 441.3L1628.2 436.2L1626 431.3L1623.9 426.6L1621.7 421.9L1619.6 417.3L1617.4 412.9L1615.3 408.6L1613.1 404.4L1610.9 400.4L1608.8 396.4L1602.5 385.7L1596.3 376.1L1590 367.4L1583.7 359.7L1577.5 352.8L1572.1 347.4L1565.8 341.4L1559.5 336.2L1553.3 331.6L1547 327.8L1540.7 324.6L1534.5 321.9L1528.2 319.8L1522 318.1L1515.7 316.9L1509.4 316L1503.2 315.5L1496.9 315.1L1490.6 315L1484.4 315.1L1478.1 315.3L1471.8 315.5L1464.5 315.7L1457.2 316L1449.9 316.3L1442.6 316.5L1435.3 316.8L1428 317L1420.7 317.3L1413.4 317.5L1406.1 317.7L1398.8 318L1391.5 318.2L1384.2 318.4L1376.8 318.6L1369.5 318.8L1362.2 319L1354.9 319.2L1347.6 319.4L1340.3 319.6L1333 319.7L1325.7 319.8L1318.4 320L1311.1 320.1L1303.8 320.2L1296.5 320.3L1289.2 320.4L1281.8 320.4L1274.5 320.5L1267.2 320.5L1259.9 320.5L1252.6 320.6L1245.3 320.6L1238 320.6L1230.7 320.5L1223.4 320.5L1216.1 320.5L1208.8 320.4L1201.5 320.4L1194.2 320.3L1186.8 320.2L1179.5 320.1L1172.2 320L1164.9 319.9L1157.6 319.7L1150.3 319.6L1143 319.4L1135.7 319.3L1128.4 319.1L1121.1 319L1113.8 318.8L1106.5 318.6L1099.2 318.4L1091.8 318.2L1084.5 318L1077.2 317.8L1069.9 317.6L1062.6 317.4L1055.3 317.2L1048 317L1040.7 316.8L1033.4 316.6L1026.1 316.5L1018.8 316.3L1011.5 316.2L1004.2 316.1L996.8 316L989.5 316L982.2 316L974.9 316L967.6 316.1L960.3 316.2L953 316.3L945.7 316.6L938.4 316.8L931.1 317.1L923.8 317.5L916.5 317.9L909.2 318.4L901.8 318.9L894.5 319.5L887.2 320.1L879.9 320.7L872.6 321.4L865.3 322.2L858 323L850.7 323.9L843.4 324.7L836.1 325.7L828.8 326.7L821.5 327.7L814.2 328.8L808.4 329.6L802.7 330.6L797 331.6L791.3 332.8L785.6 334.1L779.8 335.6L774.1 337.4L768.4 339.4L762.7 341.8L757 344.5L751.2 347.6L745.5 351.1L739.8 355.1L734.1 359.5L728.4 364.5L723 369.9L717.2 375.4L711.5 381.6L705.8 388.4L700.1 395.8L694.4 403.9L688.7 412.8L682.9 422.5L677.2 432.9L675 437.2L672.8 441.7L670.5 446.2L668.3 450.9L666.1 455.7L663.8 460.6L661.6 465.6L659.4 470.8L657.2 476L654.9 481.4L652.7 486.8L650.5 492.4L648.2 498.1L646 503.8L643.8 509.7L641.5 515.6L639.3 521.6L637.1 527.8L634.9 534L632.6 540.3L630.4 546.6L628.2 553.1L625.9 559.6L623.7 566.2L621.5 572.9L619.2 579.6L617 586.4L614.8 593.3L612.6 600.2L610.3 607.2L608.1 614.3L605.9 621.4L603.6 628.5L601.4 635.7L599.2 643L597 650.2L594.7 657.6L592.5 665L590.3 672.4L588 679.8L585.8 687.3L583.6 694.8L581.3 702.3L579.1 709.9L576.9 717.5L574.7 725.1L572.4 732.7L570.2 740.3L568 748L565.7 755.6L563.5 763.3L561.3 771L559.1 778.7L556.8 786.3L554.6 794L552.4 801.7L550.1 809.3L547.9 817L545.7 824.7L543.6 831.7L541.6 838.7L539.5 845.7L537.5 852.7L535.4 859.7L533.3 866.7L531.3 873.7L529.2 880.7L527.2 887.6L525.1 894.6L523.1 901.5L521 908.4L519 915.3L516.9 922.2L514.8 929.1L512.8 936L510.7 942.9L508.7 949.8L506.6 956.6L504.6 963.5L502.5 970.3L500.5 977.2L498.4 984L496.4 990.8L494.3 997.7L492.2 1004.5L490.2 1011.3L488.1 1018.1L486.1 1024.9L484 1031.7L482 1038.4L479.9 1045.2L477.9 1052L475.8 1058.7L473.7 1065.5L471.7 1072.3L469.6 1079L467.6 1085.7L465.5 1092.5L463.5 1099.2L461.4 1105.9L459.4 1112.7L457.3 1119.4L455.2 1126.1L453.2 1132.8L451.1 1139.5L449.1 1146.2L447 1152.9L445 1159.6L442.9 1166.3L440.9 1173L438.8 1179.7L436.7 1186.4L434.7 1193.1L432.6 1199.8L430.6 1206.5L428.5 1213.2L426.5 1219.9L424.4 1226.5L422.4 1233.2L420.3 1239.9L418.2 1246.6L416.2 1253.3L414.1 1260Z" fill="#008080"/>
<polygon points="419.54,1283.28 399.74,1248.28 439.34,1248.28" fill="#008080"/>
<polygon points="551.08,855.75 531.28,820.75 570.88,820.75" fill="#008080"/>
<polygon points="682.62,381.64 662.82,346.64 702.42,346.64" fill="#008080"/>
<polygon points="814.15,355.22 794.35,320.22 833.95,320.22" fill="#008080"/>
<polygon points="945.69,342.44 925.89,307.44 965.49,307.44" fill="#008080"/>
<polygon points="1077.23,346.77 1057.43,311.77 1097.03,311.77" fill="#008080"/>
<polygon points="1208.77,349.8 1188.97,314.8 1228.57,314.8" fill="#008080"/>
<polygon points="1340.31,348.94 1320.51,313.94 1360.11,313.94" fill="#008080"/>
<polygon points="1471.85,344.17 1452.05,309.17 1491.65,309.17" fill="#008080"/>
<polygon points="1603.38,339.62 1583.58,304.62 1623.18,304.62" fill="#008080"/>
<polygon points="1734.92,815.89 1715.12,780.89 1754.72,780.89" fill="#008080"/>
<polygon points="1866.46,1369.7 1846.66,1334.7 1886.26,1334.7" fill="#008080"/>
</g>
<g>
<path d="M424.9 1277.5L427.7 1270.9L430.4 1264.3L433.2 1257.8L435.9 1251.2L438.6 1244.6L441.4 1238.1L444.1 1231.5L446.9 1224.9L449.6 1218.3L452.3 1211.8L455.1 1205.2L457.8 1198.6L460.6 1192.1L463.3 1185.5L466 1179L468.8 1172.4L471.5 1165.9L474.3 1159.3L477 1152.8L479.7 1146.2L482.5 1139.7L485.2 1133.1L488 1126.6L490.7 1120.1L493.4 1113.5L496.2 1107L498.9 1100.5L501.7 1094L504.4 1087.5L507.1 1081L509.9 1074.5L512.6 1068L515.4 1061.5L518.1 1055L520.9 1048.5L523.6 1042L526.3 1035.6L529.1 1029.1L531.8 1022.6L534.6 1016.2L537.3 1009.7L540 1003.3L542.8 996.9L545.5 990.4L548.3 984L551 977.6L553.7 971.2L556.5 964.8L559.7 957.3L562.9 949.8L566.1 942.4L569.3 935L572.5 927.5L575.7 920.2L578.9 912.8L582.1 905.5L585.4 898.3L588.6 891L591.8 883.8L595 876.7L598.2 869.6L601.4 862.6L604.6 855.7L607.8 848.8L611 842L614.2 835.2L617.4 828.6L620.6 822L623.9 815.5L627.1 809.1L630.3 802.7L633.5 796.5L636.7 790.4L639.9 784.3L643.1 778.4L646.3 772.6L649.5 766.9L652.7 761.3L655.9 755.9L659.1 750.5L662.3 745.3L665.6 740.3L668.8 735.3L672 730.5L675.2 725.9L678.4 721.4L681.6 717L684.8 712.8L688 708.7L694.3 701.3L700.5 694.4L706.8 688.1L701.4 693.5L707.7 687.8L713.9 682.5L720.2 677.7L726.5 673.4L732.7 669.5L739 665.9L745.3 662.8L751.5 659.9L757.8 657.4L764 655.1L770.3 653.1L776.6 651.3L782.8 649.7L789.1 648.3L795.4 647L801.6 645.8L807.9 644.6L814.2 643.6L821.5 642.4L828.8 641.2L836.1 640L843.4 638.9L850.7 637.9L858 636.9L865.3 636L872.6 635.1L879.9 634.3L887.2 633.6L894.5 633L901.8 632.5L909.2 632.1L916.5 631.8L923.8 631.5L931.1 631.4L938.4 631.5L945.7 631.6L953 631.9L960.3 632.3L967.6 632.8L974.9 633.4L982.2 634.1L989.5 634.9L996.8 635.7L1004.2 636.6L1011.5 637.5L1018.8 638.5L1026.1 639.4L1033.4 640.4L1040.7 641.4L1048 642.3L1055.3 643.2L1062.6 644.1L1069.9 644.9L1077.2 645.6L1084.5 646.3L1091.8 646.9L1099.2 647.4L1106.5 647.9L1113.8 648.2L1121.1 648.5L1128.4 648.7L1135.7 648.9L1143 649L1150.3 649L1157.6 648.9L1164.9 648.8L1172.2 648.6L1179.5 648.3L1186.8 648L1194.2 647.6L1201.5 647.1L1208.8 646.6L1216.1 646L1223.4 645.4L1230.7 644.7L1238 643.9L1245.3 643.1L1252.6 642.3L1259.9 641.4L1267.2 640.6L1274.5 639.7L1281.8 638.7L1289.2 637.8L1296.5 636.9L1303.8 636L1311.1 635L1318.4 634.1L1325.7 633.2L1333 632.4L1340.3 631.6L1347.6 630.8L1354.9 630L1362.2 629.2L1369.5 628.5L1376.8 627.9L1384.2 627.2L1391.5 626.6L1398.8 626L1406.1 625.5L1413.4 625L1420.7 624.5L1428 624L1435.3 623.6L1442.6 623.1L1449.9 622.7L1457.2 622.4L1464.5 622L1471.8 621.7L1478.8 621.4L1485.7 621.1L1492.6 621L1499.5 621L1506.5 621.2L1513.4 621.7L1520.3 622.4L1527.2 623.4L1534.2 624.8L1541.1 626.6L1548 628.9L1554.9 631.6L1561.8 634.9L1568.8 638.8L1575.7 643.2L1582.6 648.4L1589.5 654.2L1596.5 660.8L1591.1 655.4L1598 662.8L1601 666.3L1604.1 670L1607.2 673.8L1610.2 677.8L1613.3 682L1616.3 686.3L1619.4 690.8L1622.5 695.4L1625.5 700.1L1628.6 705.1L1631.6 710.1L1634.7 715.3L1637.8 720.6L1640.8 726.1L1643.9 731.7L1646.9 737.5L1650 743.3L1653 749.3L1656.1 755.5L1659.2 761.7L1662.2 768.1L1665.3 774.6L1668.3 781.3L1671.4 788L1674.5 794.9L1677.5 801.9L1680.6 809L1683.6 816.2L1686.7 823.5L1689.8 831L1692.8 838.5L1695.9 846.2L1698.9 853.9L1702 861.8L1705.1 869.7L1708.1 877.8L1711.2 885.9L1714.2 894.1L1717.3 902.5L1720.3 910.9L1723.4 919.4L1726.5 928L1729.5 936.7L1731.6 942.6L1733.7 948.6L1735.8 954.7L1737.9 960.8L1740 966.9L1742.1 973L1744.1 979.2L1746.2 985.4L1748.3 991.7L1750.4 998L1752.5 1004.3L1754.6 1010.7L1756.7 1017L1758.8 1023.5L1760.8 1029.9L1762.9 1036.4L1765 1042.9L1767.1 1049.4L1769.2 1056L1771.3 1062.6L1773.4 1069.2L1775.5 1075.8L1777.5 1082.5L1779.6 1089.1L1781.7 1095.9L1783.8 1102.6L1785.9 1109.3L1788 1116.1L1790.1 1122.9L1792.2 1129.7L1794.2 1136.6L1796.3 1143.4L1798.4 1150.3L1800.5 1157.2L1802.6 1164.1L1804.7 1171L1806.8 1178L1808.9 1185L1811 1191.9L1813 1198.9L1815.1 1205.9L1817.2 1213L1819.3 1220L1821.4 1227L1823.5 1234.1L1825.6 1241.2L1827.7 1248.2L1829.7 1255.3L1831.8 1262.4L1833.9 1269.5L1836 1276.6L1838.1 1283.8L1840.2 1290.9L1842.3 1298L1844.4 1305.2L1846.4 1312.3L1848.5 1319.5L1850.6 1326.6L1852.7 1333.8L1854.8 1340.9L1856.9 1348.1L1859 1355.2L1861.1 1362.4L1871.9 1362.4L1869.8 1355.2L1867.7 1348.1L1865.6 1340.9L1863.5 1333.8L1861.4 1326.6L1859.3 1319.5L1857.2 1312.3L1855.2 1305.2L1853.1 1298L1851 1290.9L1848.9 1283.8L1846.8 1276.6L1844.7 1269.5L1842.6 1262.4L1840.5 1255.3L1838.5 1248.2L1836.4 1241.2L1834.3 1234.1L1832.2 1227L1830.1 1220L1828 1213L1825.9 1205.9L1823.8 1198.9L1821.8 1191.9L1819.7 1185L1817.6 1178L1815.5 1171L1813.4 1164.1L1811.3 1157.2L1809.2 1150.3L1807.1 1143.4L1805 1136.6L1803 1129.7L1800.9 1122.9L1798.8 1116.1L1796.7 1109.3L1794.6 1102.6L1792.5 1095.9L1790.4 1089.1L1788.3 1082.5L1786.3 1075.8L1784.2 1069.2L1782.1 1062.6L1780 1056L1777.9 1049.4L1775.8 1042.9L1773.7 1036.4L1771.6 1029.9L1769.6 1023.5L1767.5 1017L1765.4 1010.7L1763.3 1004.3L1761.2 998L1759.1 991.7L1757 985.4L1754.9 979.2L1752.9 973L1750.8 966.9L1748.7 960.8L1746.6 954.7L1744.5 948.6L1742.4 942.6L1740.3 936.7L1737.3 928L1734.2 919.4L1731.1 910.9L1728.1 902.5L1725 894.1L1722 885.9L1718.9 877.8L1715.9 869.7L1712.8 861.8L1709.7 853.9L1706.7 846.2L1703.6 838.5L1700.6 831L1697.5 823.5L1694.4 816.2L1691.4 809L1688.3 801.9L1685.3 794.9L1682.2 788L1679.1 781.3L1676.1 774.6L1673 768.1L1670 761.7L1666.9 755.5L1663.8 749.3L1660.8 743.3L1657.7 737.5L1654.7 731.7L1651.6 726.1L1648.6 720.6L1645.5 715.3L1642.4 710.1L1639.4 705.1L1636.3 700.1L1633.3 695.4L1630.2 690.8L1627.1 686.3L1624.1 682L1621 677.8L1618 673.8L1614.9 670L1611.8 666.3L1608.8 662.8L1601.9 655.4L1596.5 650L1589.5 643.4L1582.6 637.6L1575.7 632.4L1568.8 628L1561.8 624.1L1554.9 620.8L1548 618.1L1541.1 615.8L1534.2 614L1527.2 612.6L1520.3 611.6L1513.4 610.9L1506.5 610.4L1499.5 610.2L1492.6 610.2L1485.7 610.3L1478.8 610.6L1471.8 610.9L1464.5 611.2L1457.2 611.6L1449.9 611.9L1442.6 612.3L1435.3 612.8L1428 613.2L1420.7 613.7L1413.4 614.2L1406.1 614.7L1398.8 615.2L1391.5 615.8L1384.2 616.4L1376.8 617.1L1369.5 617.7L1362.2 618.4L1354.9 619.2L1347.6 620L1340.3 620.8L1333 621.6L1325.7 622.4L1318.4 623.3L1311.1 624.2L1303.8 625.2L1296.5 626.1L1289.2 627L1281.8 627.9L1274.5 628.9L1267.2 629.8L1259.9 630.6L1252.6 631.5L1245.3 632.3L1238 633.1L1230.7 633.9L1223.4 634.6L1216.1 635.2L1208.8 635.8L1201.5 636.3L1194.2 636.8L1186.8 637.2L1179.5 637.5L1172.2 637.8L1164.9 638L1157.6 638.1L1150.3 638.2L1143 638.2L1135.7 638.1L1128.4 637.9L1121.1 637.7L1113.8 637.4L1106.5 637.1L1099.2 636.6L1091.8 636.1L1084.5 635.5L1077.2 634.8L1069.9 634.1L1062.6 633.3L1055.3 632.4L1048 631.5L1040.7 630.6L1033.4 629.6L1026.1 628.6L1018.8 627.7L1011.5 626.7L1004.2 625.8L996.8 624.9L989.5 624.1L982.2 623.3L974.9 622.6L967.6 622L960.3 621.5L953 621.1L945.7 620.8L938.4 620.7L931.1 620.6L923.8 620.7L916.5 621L909.2 621.3L901.8 621.7L894.5 622.2L887.2 622.8L879.9 623.5L872.6 624.3L865.3 625.2L858 626.1L850.7 627.1L843.4 628.1L836.1 629.2L828.8 630.4L821.5 631.6L814.2 632.8L807.9 633.8L801.6 635L795.4 636.2L789.1 637.5L782.8 638.9L776.6 640.5L770.3 642.3L764 644.3L757.8 646.6L751.5 649.1L745.3 652L739 655.1L732.7 658.7L726.5 662.6L720.2 666.9L713.9 671.7L707.7 677L701.4 682.7L696 688.1L689.7 694.4L683.5 701.3L677.2 708.7L674 712.8L670.8 717L667.6 721.4L664.4 725.9L661.2 730.5L658 735.3L654.8 740.3L651.5 745.3L648.3 750.5L645.1 755.9L641.9 761.3L638.7 766.9L635.5 772.6L632.3 778.4L629.1 784.3L625.9 790.4L622.7 796.5L619.5 802.7L616.3 809.1L613.1 815.5L609.8 822L606.6 828.6L603.4 835.2L600.2 842L597 848.8L593.8 855.7L590.6 862.6L587.4 869.6L584.2 876.7L581 883.8L577.8 891L574.6 898.3L571.3 905.5L568.1 912.8L564.9 920.2L561.7 927.5L558.5 935L555.3 942.4L552.1 949.8L548.9 957.3L545.7 964.8L542.9 971.2L540.2 977.6L537.5 984L534.7 990.4L532 996.9L529.2 1003.3L526.5 1009.7L523.8 1016.2L521 1022.6L518.3 1029.1L515.5 1035.6L512.8 1042L510.1 1048.5L507.3 1055L504.6 1061.5L501.8 1068L499.1 1074.5L496.4 1081L493.6 1087.5L490.9 1094L488.1 1100.5L485.4 1107L482.6 1113.5L479.9 1120.1L477.2 1126.6L474.4 1133.1L471.7 1139.7L468.9 1146.2L466.2 1152.8L463.5 1159.3L460.7 1165.9L458 1172.4L455.2 1179L452.5 1185.5L449.8 1192.1L447 1198.6L444.3 1205.2L441.5 1211.8L438.8 1218.3L436.1 1224.9L433.3 1231.5L430.6 1238.1L427.8 1244.6L425.1 1251.2L422.4 1257.8L419.6 1264.3L416.9 1270.9L414.1 1277.5Z" fill="#ff00ff"/>
<polygon points="396.21,1277.49 431.21,1257.69 431.21,1297.29" fill="#ff00ff"/>
<polygon points="527.74,961.93 562.74,942.13 562.74,981.73" fill="#ff00ff"/>
<polygon points="659.28,663.48 694.28,643.68 694.28,683.28" fill="#ff00ff"/>
<polygon points="790.82,636.62 825.82,616.82 825.82,656.42" fill="#ff00ff"/>
<polygon points="922.36,619.08 957.36,599.28 957.36,638.88" fill="#ff00ff"/>
<polygon points="1053.9,644.42 1088.9,624.62 1088.9,664.22" fill="#ff00ff"/>
<polygon points="1185.44,644.63 1220.44,624.83 1220.44,664.43" fill="#ff00ff"/>
<polygon points="1316.97,624.27 1351.97,604.47 1351.97,644.07" fill="#ff00ff"/>
<polygon points="1448.51,615.18 1483.51,595.38 1483.51,634.98" fill="#ff00ff"/>
<polygon points="1580.05,612.58 1615.05,592.78 1615.05,632.38" fill="#ff00ff"/>
<polygon points="1711.59,911.25 1746.59,891.45 1746.59,931.05" fill="#ff00ff"/>
<polygon points="1843.13,1362.39 1878.13,1342.59 1878.13,1382.19" fill="#ff00ff"/>
</g>
<g>
<path d="M424.9 1297.4L428.7 1292L432.5 1286.5L436.2 1281.1L440 1275.6L443.7 1270.2L447.5 1264.7L451.2 1259.1L455 1253.6L458.8 1248.1L462.5 1242.5L466.3 1236.8L470 1231.2L473.8 1225.5L477.6 1219.7L481.3 1213.9L485.1 1208.1L488.8 1202.2L492.6 1196.2L496.3 1190.2L500.1 1184.1L503.9 1178L507.6 1171.7L511.4 1165.4L515.1 1159.1L518.9 1152.6L522.7 1146.1L526.4 1139.4L530.2 1132.7L533.9 1125.9L537.7 1119L541.4 1112L545.2 1104.8L549 1097.6L552.7 1090.3L556.5 1082.8L559.7 1076.4L562.9 1069.8L566.1 1063.2L569.3 1056.5L572.5 1049.8L575.7 1043L578.9 1036.2L582.1 1029.3L585.4 1022.4L588.6 1015.4L591.8 1008.5L595 1001.5L598.2 994.5L601.4 987.5L604.6 980.5L607.8 973.6L611 966.6L614.2 959.7L617.4 952.8L620.6 946L623.9 939.2L627.1 932.4L630.3 925.7L633.5 919.1L636.7 912.5L639.9 906L643.1 899.6L646.3 893.3L649.5 887.1L652.7 881L655.9 875L659.1 869.1L662.3 863.3L665.6 857.7L668.8 852.2L672 846.9L675.2 841.7L678.4 836.6L681.6 831.7L684.8 827L688 822.5L694.3 814.1L700.5 806.5L706.8 799.5L713.1 793L707.7 798.4L713.9 792.6L720.2 787.3L726.5 782.6L732.7 778.3L739 774.5L745.3 771.2L751.5 768.2L757.8 765.7L764 763.5L770.3 761.6L776.6 760L782.8 758.7L789.1 757.7L795.4 756.8L801.6 756.1L807.9 755.6L814.2 755.3L821.5 754.9L828.8 754.8L836.1 754.7L843.4 754.7L850.7 754.9L858 755.1L865.3 755.4L872.6 755.8L879.9 756.2L887.2 756.7L894.5 757.2L901.8 757.7L909.2 758.3L916.5 758.9L923.8 759.5L931.1 760L938.4 760.6L945.7 761.1L953 761.6L960.3 762.1L967.6 762.5L974.9 763L982.2 763.3L989.5 763.7L996.8 764.1L1004.2 764.4L1011.5 764.7L1018.8 765.1L1026.1 765.4L1033.4 765.7L1040.7 766L1048 766.4L1055.3 766.7L1062.6 767.1L1069.9 767.5L1077.2 767.9L1084.5 768.3L1091.8 768.7L1099.2 769.2L1106.5 769.7L1113.8 770.2L1121.1 770.7L1128.4 771.2L1135.7 771.7L1143 772.3L1150.3 772.8L1157.6 773.4L1164.9 773.9L1172.2 774.5L1179.5 775L1186.8 775.6L1194.2 776.1L1201.5 776.6L1208.8 777.2L1216.1 777.7L1223.4 778.2L1230.7 778.6L1238 779.1L1245.3 779.5L1252.6 779.9L1259.9 780.2L1267.2 780.5L1274.5 780.8L1281.8 780.9L1289.2 781.1L1296.5 781.1L1303.8 781.1L1311.1 781.1L1318.4 780.9L1325.7 780.7L1333 780.3L1340.3 779.9L1347.6 779.4L1354.9 778.8L1362.2 778.1L1369.5 777.3L1376.8 776.5L1384.2 775.6L1391.5 774.7L1398.8 773.7L1406.1 772.7L1413.4 771.7L1420.7 770.6L1428 769.5L1435.3 768.5L1442.6 767.4L1449.9 766.3L1457.2 765.3L1464.5 764.3L1471.8 763.3L1478.4 762.5L1485 761.8L1491.6 761.2L1498.2 760.7L1504.7 760.5L1511.3 760.6L1517.9 761L1524.5 761.7L1531 762.9L1537.6 764.5L1544.2 766.6L1550.8 769.3L1557.3 772.6L1563.9 776.5L1570.5 781.1L1577.1 786.5L1583.7 792.6L1590.2 799.6L1584.8 794.2L1591.4 802L1598 810.8L1600.9 815L1603.8 819.4L1606.8 824L1609.7 828.8L1612.6 833.7L1615.5 838.8L1618.4 844.1L1621.4 849.5L1624.3 855L1627.2 860.7L1630.1 866.5L1633.1 872.5L1636 878.5L1638.9 884.7L1641.8 891L1644.8 897.5L1647.7 904L1650.6 910.6L1653.5 917.3L1656.4 924L1659.4 930.9L1662.3 937.8L1665.2 944.8L1668.1 951.8L1671.1 959L1674 966.1L1676.9 973.3L1679.8 980.5L1682.8 987.8L1685.7 995.1L1688.6 1002.4L1691.5 1009.7L1694.4 1017L1697.4 1024.3L1700.3 1031.6L1703.2 1038.9L1706.1 1046.2L1709.1 1053.5L1712 1060.7L1714.9 1067.9L1717.8 1075.1L1720.8 1082.2L1723.7 1089.3L1726.6 1096.3L1729.5 1103.3L1732.7 1110.7L1735.8 1118L1738.9 1125.2L1742.1 1132.3L1745.2 1139.4L1748.3 1146.4L1751.4 1153.4L1754.6 1160.3L1757.7 1167.1L1760.8 1173.8L1764 1180.5L1767.1 1187.2L1770.2 1193.8L1773.4 1200.3L1776.5 1206.8L1779.6 1213.2L1782.8 1219.6L1785.9 1225.9L1789 1232.2L1792.2 1238.4L1795.3 1244.6L1798.4 1250.8L1801.6 1256.9L1804.7 1263L1807.8 1269.1L1811 1275.1L1814.1 1281.1L1817.2 1287L1820.3 1293L1823.5 1298.9L1826.6 1304.8L1829.7 1310.7L1832.9 1316.5L1836 1322.4L1839.1 1328.2L1842.3 1334L1845.4 1339.8L1848.5 1345.6L1851.7 1351.4L1854.8 1357.1L1857.9 1362.9L1861.1 1368.7L1871.9 1368.7L1868.7 1362.9L1865.6 1357.1L1862.5 1351.4L1859.3 1345.6L1856.2 1339.8L1853.1 1334L1849.9 1328.2L1846.8 1322.4L1843.7 1316.5L1840.5 1310.7L1837.4 1304.8L1834.3 1298.9L1831.1 1293L1828 1287L1824.9 1281.1L1821.8 1275.1L1818.6 1269.1L1815.5 1263L1812.4 1256.9L1809.2 1250.8L1806.1 1244.6L1803 1238.4L1799.8 1232.2L1796.7 1225.9L1793.6 1219.6L1790.4 1213.2L1787.3 1206.8L1784.2 1200.3L1781 1193.8L1777.9 1187.2L1774.8 1180.5L1771.6 1173.8L1768.5 1167.1L1765.4 1160.3L1762.2 1153.4L1759.1 1146.4L1756 1139.4L1752.9 1132.3L1749.7 1125.2L1746.6 1118L1743.5 1110.7L1740.3 1103.3L1737.4 1096.3L1734.5 1089.3L1731.6 1082.2L1728.6 1075.1L1725.7 1067.9L1722.8 1060.7L1719.9 1053.5L1716.9 1046.2L1714 1038.9L1711.1 1031.6L1708.2 1024.3L1705.2 1017L1702.3 1009.7L1699.4 1002.4L1696.5 995.1L1693.6 987.8L1690.6 980.5L1687.7 973.3L1684.8 966.1L1681.9 959L1678.9 951.8L1676 944.8L1673.1 937.8L1670.2 930.9L1667.2 924L1664.3 917.3L1661.4 910.6L1658.5 904L1655.6 897.5L1652.6 891L1649.7 884.7L1646.8 878.5L1643.9 872.5L1640.9 866.5L1638 860.7L1635.1 855L1632.2 849.5L1629.2 844.1L1626.3 838.8L1623.4 833.7L1620.5 828.8L1617.6 824L1614.6 819.4L1611.7 815L1608.8 810.8L1602.2 802L1595.6 794.2L1590.2 788.8L1583.7 781.8L1577.1 775.7L1570.5 770.3L1563.9 765.7L1557.3 761.8L1550.8 758.5L1544.2 755.8L1537.6 753.7L1531 752.1L1524.5 750.9L1517.9 750.2L1511.3 749.8L1504.7 749.7L1498.2 749.9L1491.6 750.4L1485 751L1478.4 751.7L1471.8 752.5L1464.5 753.5L1457.2 754.5L1449.9 755.5L1442.6 756.6L1435.3 757.7L1428 758.7L1420.7 759.8L1413.4 760.9L1406.1 761.9L1398.8 762.9L1391.5 763.9L1384.2 764.8L1376.8 765.7L1369.5 766.5L1362.2 767.3L1354.9 768L1347.6 768.6L1340.3 769.1L1333 769.5L1325.7 769.9L1318.4 770.1L1311.1 770.3L1303.8 770.3L1296.5 770.3L1289.2 770.3L1281.8 770.1L1274.5 770L1267.2 769.7L1259.9 769.4L1252.6 769.1L1245.3 768.7L1238 768.3L1230.7 767.8L1223.4 767.4L1216.1 766.9L1208.8 766.4L1201.5 765.8L1194.2 765.3L1186.8 764.8L1179.5 764.2L1172.2 763.7L1164.9 763.1L1157.6 762.6L1150.3 762L1143 761.5L1135.7 760.9L1128.4 760.4L1121.1 759.9L1113.8 759.4L1106.5 758.9L1099.2 758.4L1091.8 757.9L1084.5 757.5L1077.2 757.1L1069.9 756.7L1062.6 756.3L1055.3 755.9L1048 755.6L1040.7 755.2L1033.4 754.9L1026.1 754.6L1018.8 754.3L1011.5 753.9L1004.2 753.6L996.8 753.3L989.5 752.9L982.2 752.5L974.9 752.2L967.6 751.7L960.3 751.3L953 750.8L945.7 750.3L938.4 749.8L931.1 749.2L923.8 748.7L916.5 748.1L909.2 747.5L901.8 746.9L894.5 746.4L887.2 745.9L879.9 745.4L872.6 745L865.3 744.6L858 744.3L850.7 744.1L843.4 743.9L836.1 743.9L828.8 744L821.5 744.1L814.2 744.5L807.9 744.8L801.6 745.3L795.4 746L789.1 746.9L782.8 747.9L776.6 749.2L770.3 750.8L764 752.7L757.8 754.9L751.5 757.4L745.3 760.4L739 763.7L732.7 767.5L726.5 771.8L720.2 776.5L713.9 781.8L707.7 787.6L702.3 793L696 799.5L689.7 806.5L683.5 814.1L677.2 822.5L674 827L670.8 831.7L667.6 836.6L664.4 841.7L661.2 846.9L658 852.2L654.8 857.7L651.5 863.3L648.3 869.1L645.1 875L641.9 881L638.7 887.1L635.5 893.3L632.3 899.6L629.1 906L625.9 912.5L622.7 919.1L619.5 925.7L616.3 932.4L613.1 939.2L609.8 946L606.6 952.8L603.4 959.7L600.2 966.6L597 973.6L593.8 980.5L590.6 987.5L587.4 994.5L584.2 1001.5L581 1008.5L577.8 1015.4L574.6 1022.4L571.3 1029.3L568.1 1036.2L564.9 1043L561.7 1049.8L558.5 1056.5L555.3 1063.2L552.1 1069.8L548.9 1076.4L545.7 1082.8L541.9 1090.3L538.2 1097.6L534.4 1104.8L530.6 1112L526.9 1119L523.1 1125.9L519.4 1132.7L515.6 1139.4L511.9 1146.1L508.1 1152.6L504.3 1159.1L500.6 1165.4L496.8 1171.7L493.1 1178L489.3 1184.1L485.5 1190.2L481.8 1196.2L478 1202.2L474.3 1208.1L470.5 1213.9L466.8 1219.7L463 1225.5L459.2 1231.2L455.5 1236.8L451.7 1242.5L448 1248.1L444.2 1253.6L440.4 1259.1L436.7 1264.7L432.9 1270.2L429.2 1275.6L425.4 1281.1L421.7 1286.5L417.9 1292L414.1 1297.4Z" fill="#808000"/>
<polygon points="442.87,1297.42 407.87,1277.62 407.87,1317.22" fill="#808000"/>
<polygon points="574.41,1107.04 539.41,1087.24 539.41,1126.84" fill="#808000"/>
<polygon points="705.95,771.34 670.95,751.54 670.95,791.14" fill="#808000"/>
<polygon points="837.49,742.53 802.49,722.73 802.49,762.33" fill="#808000"/>
<polygon points="969.03,757.69 934.03,737.89 934.03,777.49" fill="#808000"/>
<polygon points="1100.56,761.16 1065.56,741.36 1065.56,780.96" fill="#808000"/>
<polygon points="1232.1,772.42 1197.1,752.62 1197.1,792.22" fill="#808000"/>
<polygon points="1363.64,779.78 1328.64,759.98 1328.64,799.58" fill="#808000"/>
<polygon points="1495.18,755.52 1460.18,735.72 1460.18,775.32" fill="#808000"/>
<polygon points="1626.72,745.78 1591.72,725.98 1591.72,765.58" fill="#808000"/>
<polygon points="1758.26,1126.32 1723.26,1106.52 1723.26,1146.12" fill="#808000"/>
<polygon points="1889.79,1368.68 1854.79,1348.88 1854.79,1388.48" fill="#808000"/>
</g>
<rect x="288" y="72.2" width="1710" height="1407.8" fill="none" stroke="#000" stroke-width="10.5"/>
<line x1="592.5" y1="120.5" x2="746.3" y2="120.5" stroke="#000000" stroke-width="10.6" stroke-linecap="butt"/>
<rect x="654.4" y="105.5" width="30" height="30" fill="#000000"/>
<text class="lg" text-anchor="start" transform="translate(761.2 148.3) scale(1 1.035)">0% SC</text>
<line x1="1064.1" y1="120.5" x2="1217.9" y2="120.5" stroke="#ff0000" stroke-width="10.6" stroke-linecap="butt"/>
<circle cx="1141" cy="120.5" r="17.1" fill="#ff0000"/>
<text class="lg" text-anchor="start" transform="translate(1232.8 148.3) scale(1 1.035)">2% SC</text>
<line x1="1535.85" y1="120.5" x2="1689.65" y2="120.5" stroke="#0000ff" stroke-width="10.6" stroke-linecap="butt"/>
<polygon points="1612.75,97.17 1592.95,132.17 1632.55,132.17" fill="#0000ff"/>
<text class="lg" text-anchor="start" transform="translate(1704.55 148.3) scale(1 1.035)">6% SC</text>
<line x1="592.5" y1="221.3" x2="746.3" y2="221.3" stroke="#008080" stroke-width="10.6" stroke-linecap="butt"/>
<polygon points="669.4,244.63 649.6,209.63 689.2,209.63" fill="#008080"/>
<text class="lg" text-anchor="start" transform="translate(761.2 249.1) scale(1 1.035)">10% SC</text>
<line x1="1064.1" y1="221.3" x2="1217.9" y2="221.3" stroke="#ff00ff" stroke-width="10.6" stroke-linecap="butt"/>
<polygon points="1117.67,221.3 1152.67,201.5 1152.67,241.1" fill="#ff00ff"/>
<text class="lg" text-anchor="start" transform="translate(1232.8 249.1) scale(1 1.035)">14% SC</text>
<line x1="1535.85" y1="221.3" x2="1689.65" y2="221.3" stroke="#808000" stroke-width="10.6" stroke-linecap="butt"/>
<polygon points="1636.08,221.3 1601.08,201.5 1601.08,241.1" fill="#808000"/>
<text class="lg" text-anchor="start" transform="translate(1704.55 249.1) scale(1 1.035)">18% SC</text>
<text class="tk" text-anchor="middle" transform="translate(199.7 1398.31) scale(1 1.035)">100</text>
<text class="tk" text-anchor="middle" transform="translate(199.7 1181.72) scale(1 1.035)">200</text>
<text class="tk" text-anchor="middle" transform="translate(199.7 965.14) scale(1 1.035)">300</text>
<text class="tk" text-anchor="middle" transform="translate(199.7 748.55) scale(1 1.035)">400</text>
<text class="tk" text-anchor="middle" transform="translate(199.7 531.97) scale(1 1.035)">500</text>
<text class="tk" text-anchor="middle" transform="translate(199.7 315.38) scale(1 1.035)">600</text>
<text class="tk" text-anchor="middle" transform="translate(199.7 98.8) scale(1 1.035)">700</text>
<text class="tk" text-anchor="middle" transform="translate(419.54 1571) scale(1 1.035)">2</text>
<text class="tk" text-anchor="middle" transform="translate(682.62 1571) scale(1 1.035)">4</text>
<text class="tk" text-anchor="middle" transform="translate(945.69 1571) scale(1 1.035)">6</text>
<text class="tk" text-anchor="middle" transform="translate(1208.77 1571) scale(1 1.035)">8</text>
<text class="tk" text-anchor="middle" transform="translate(1471.85 1571) scale(1 1.035)">10</text>
<text class="tk" text-anchor="middle" transform="translate(1734.92 1571) scale(1 1.035)">12</text>
<text class="tk" text-anchor="middle" transform="translate(1998 1571) scale(1 1.035)">14</text>
<text class="ti" text-anchor="middle" transform="translate(1122.5 1656) scale(1 1.035)">pH</text>
<text class="ti" text-anchor="middle" transform="translate(91.5 775.5) rotate(-90) scale(1 1.035)">Q<tspan dy="18.84">eq</tspan><tspan dy="-18.84"> (g/g)</tspan></text>
</svg>
</body></html>
